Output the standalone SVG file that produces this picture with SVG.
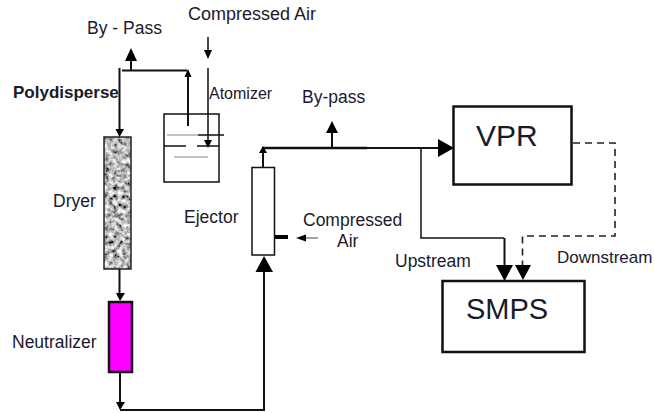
<svg xmlns="http://www.w3.org/2000/svg" width="654" height="413" viewBox="0 0 654 413">
<style>
text{font-family:"Liberation Sans",Arial,sans-serif;font-size:17.500px;fill:#1a1a2a}
.l{fill:none;stroke:#111;stroke-width:1.5}
.m{fill:none;stroke:#111;stroke-width:2}
.t{fill:none;stroke:#111;stroke-width:2.5}
.d{fill:none;stroke:#222;stroke-width:1.6;stroke-dasharray:7 5}
.h{fill:#000;stroke:none}
.g{fill:none;stroke:#888;stroke-width:1.2}
.box{fill:#fff;stroke:#111;stroke-width:1.5}
.big{fill:#fff;stroke:#111;stroke-width:2.5}
</style>
<defs>
<filter id="grain" x="0" y="0" width="100%" height="100%">
<feTurbulence type="fractalNoise" baseFrequency="0.22" numOctaves="3" seed="7"/>
<feColorMatrix type="matrix" values="1.8 0 0 0 -0.4 1.8 0 0 0 -0.4 1.8 0 0 0 -0.4 0 0 0 0 1"/>
</filter>
</defs>
<rect width="654" height="413" fill="#fff"/>
<g id="atomizer">
<rect class="box" x="164" y="114" width="55" height="68"/>
<path class="g" d="M167 135H198M174 157H208"/>
<path class="l" d="M198 135H224M164 146H186M197 146H219"/>
</g>
<g id="dryer">
<rect x="104" y="137" width="27" height="132" fill="#999" filter="url(#grain)"/>
<rect x="104" y="137" width="27" height="132" fill="none" stroke="#222" stroke-width="1.5"/>
</g>
<g id="neutralizer">
<rect x="109" y="302" width="23" height="70" fill="#f0f" stroke="#111" stroke-width="2.500"/>
</g>
<g id="ejector">
<rect class="box" x="252" y="167.500" width="22.500" height="87.500"/>
</g>
<g id="vpr">
<rect class="big" x="453.500" y="106.500" width="118" height="78"/>
<text x="476" y="146" style="font-size:30px">VPR</text>
</g>
<g id="smps">
<rect class="big" x="442.500" y="281" width="142" height="71"/>
<text x="466" y="319" style="font-size:29px">SMPS</text>
</g>
<g id="connectors">
<path class="m" d="M119.500 68V130M122 70.500H187M131 71V58M188 71V126"/>
<path class="h" d="M131 48L137 61H125ZM188 69L191.500 77H184.500ZM119.500 137L115.500 129H124Z"/>
<path class="l" d="M208 37V52M208 68V143"/>
<path class="h" d="M208 59L204 50H212ZM208 148L204 140H212Z"/>
<path class="m" d="M119.500 269V295M120 372V404M120 410H264V258"/>
<path class="h" d="M120 301L116 293H125ZM120 410L116 402H125ZM264 256L273 272H255.500Z"/>
<path class="t" d="M262 148H367"/>
<path class="m" d="M367 148H438M263 168V150M332 148V130"/>
<path class="l" d="M421 148V238H504"/>
<path class="m" d="M504.500 238V268"/>
<path class="h" d="M263 146L267 153H259ZM332 121L338 133H326ZM454 148L438 139V157ZM504.500 281L496 265H513ZM523 280L515 265H531Z"/>
<path class="d" d="M573 143H615V236H522.500V265"/>
<path class="h" d="M275 235H288V239H275Z"/>
<path d="M318 238H305" fill="none" stroke="#666" stroke-width="1.200"/>
<path class="h" d="M296 238L306 234.500V241.500Z"/>
</g>
<g id="labels">
<text x="188" y="20" style="font-size:18px">Compressed Air</text>
<text x="87" y="34">By - Pass</text>
<text x="13" y="98" style="font-weight:700;font-size:17px">Polydisperse</text>
<text x="209" y="99" style="font-size:16px">Atomizer</text>
<text x="302" y="103">By-pass</text>
<text x="53" y="207">Dryer</text>
<text x="184" y="223">Ejector</text>
<text x="303" y="226">Compressed</text>
<text x="337" y="247">Air</text>
<text x="395" y="267">Upstream</text>
<text x="557" y="263" style="font-size:17px">Downstream</text>
<text x="12" y="348">Neutralizer</text>
</g>
</svg>
